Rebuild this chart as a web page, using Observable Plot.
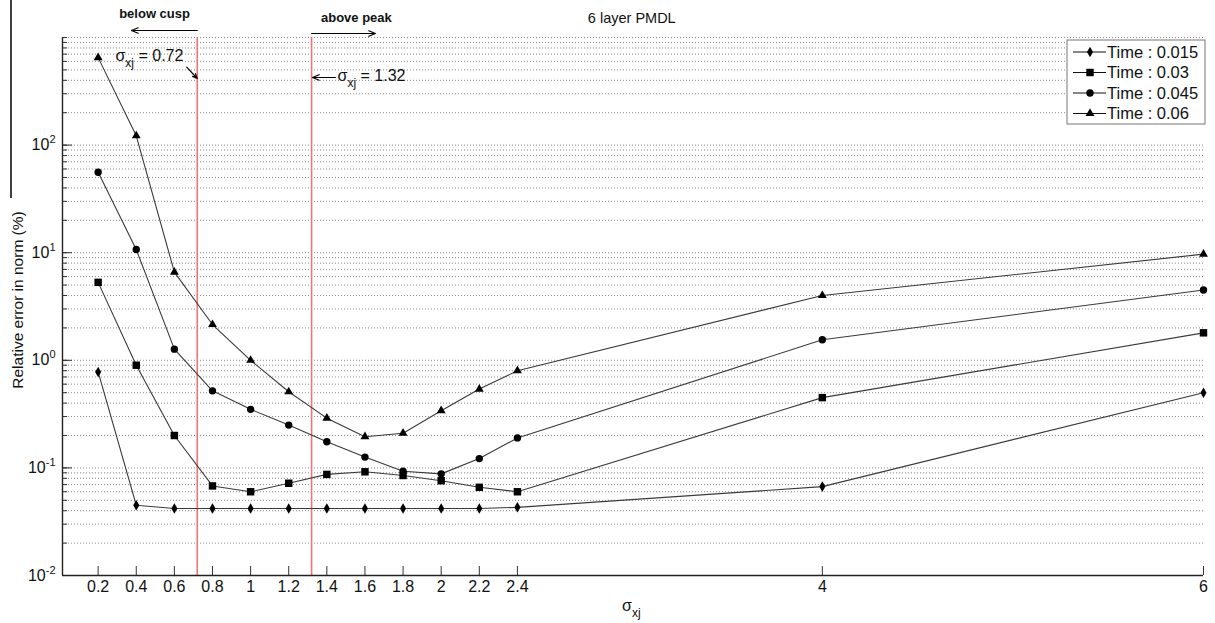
<!DOCTYPE html>
<html><head><meta charset="utf-8">
<script src="https://cdn.jsdelivr.net/npm/d3@7"></script>
<script src="https://cdn.jsdelivr.net/npm/@observablehq/plot@0.6"></script>
<style>
body{margin:0;background:#fff;}
#chart svg{font-family:"Liberation Sans",Arial,sans-serif;display:block;}
</style>
</head><body><div id="chart"></div>
<script>
// ---- data ----
const sigma   = [0.2,0.4,0.6,0.8,1.0,1.2,1.4,1.6,1.8,2.0,2.2,2.4,4,6];
const err015  = [0.78,0.045,0.042,0.042,0.042,0.042,0.042,0.042,0.042,0.042,0.042,0.043,0.067,0.5];
const err03   = [5.3,0.9,0.2,0.068,0.06,0.072,0.087,0.092,0.085,0.076,0.066,0.06,0.45,1.8];
const err045  = [56,10.7,1.27,0.52,0.35,0.25,0.175,0.126,0.093,0.088,0.122,0.19,1.55,4.5];
const err06   = [650,122,6.6,2.15,1.0,0.51,0.29,0.195,0.21,0.34,0.54,0.8,4.0,9.7];
const seriesNames   = ["Time : 0.015","Time : 0.03","Time : 0.045","Time : 0.06"];
const seriesSymbols = ["diamond","square","circle","triangle"];
const xTickValues = [0.2,0.4,0.6,0.8,1,1.2,1.4,1.6,1.8,2,2.2,2.4,4,6];
const yTickValues = [0.01,0.1,1,10,100];
const cuspLines   = [0.72,1.32];
const titleText   = "6 layer PMDL";
const yLabel      = "Relative error in norm (%)";

// annotations (data coordinates)
const annoText = [
  {x:0.496, y:1671, text:"below cusp", weight:"bold", size:13, anchor:"middle"},
  {x:1.555, y:1535, text:"above peak", weight:"bold", size:13, anchor:"middle"},
  {x:0.291, y:681,  text:"σ_xj = 0.72", weight:"normal", size:16, anchor:"start"},
  {x:1.456, y:444,  text:"σ_xj = 1.32", weight:"normal", size:16, anchor:"start"},
  {x:3.0,   y:1500, text:titleText, weight:"normal", size:14.5, anchor:"middle"}
];
const annoArrows = [
  {x1:0.72, y1:1161, x2:0.375, y2:1161},
  {x1:1.32, y1:1089, x2:1.655, y2:1089},
  {x1:0.665, y1:530, x2:0.72, y2:416},
  {x1:1.445, y1:425, x2:1.325, y2:425}
];

// ---- table ----
const allSeries = [err015, err03, err045, err06];
const rows = [];
allSeries.forEach((arr, j) => arr.forEach((v, i) => rows.push({sigma: sigma[i], err: v, series: seriesNames[j], symbol: seriesSymbols[j]})));

const minorTicks = d3.range(-2, 3).flatMap(k => d3.range(1, 10).map(m => +(m * Math.pow(10, k)).toPrecision(3))).concat([1000]);
const symR = {diamond: 3.2, square: 4.2, circle: 3.7, triangle: 3.3};

const W = 1215, H = 623, mL = 62, mR = 12, mT = 37, mB = 48;

const plot = Plot.plot({
  width: W, height: H,
  marginLeft: mL, marginRight: mR, marginTop: mT, marginBottom: mB,
  x: {type: "linear", domain: [0.013, 6]},
  y: {type: "log", domain: [0.01, 1000]},
  style: {fontFamily: '"Liberation Sans",Arial,sans-serif', fontSize: "16px", color: "#111", background: "#fff"},
  marks: [
    Plot.gridY(minorTicks, {stroke: "#8a8a8a", strokeOpacity: 1, strokeDasharray: "1,2", strokeWidth: 1}),
    Plot.ruleX(cuspLines, {stroke: "#f07575", strokeWidth: 1.6}),
    Plot.line(rows, {x: "sigma", y: "err", z: "series", stroke: "#3a3a3a", strokeWidth: 1.1}),
    ...seriesSymbols.map((s, j) => Plot.dot(rows.filter(d => d.symbol === s), {x: "sigma", y: "err", symbol: () => s, fill: "#000", stroke: "none", r: symR[s]})),
    Plot.axisX(xTickValues, {tickSize: -9, tickPadding: 14, tickFormat: d => String(d), label: null, fontSize: 16, stroke: "#333"}),
    Plot.axisY(minorTicks, {tickSize: -5, tickFormat: () => "", label: null, stroke: "#333"}),
    Plot.axisY(yTickValues, {tickSize: -10, tickPadding: 17, tickFormat: d => "10^" + Math.round(Math.log10(d)), label: null, fontSize: 16, stroke: "#333"}),
    Plot.ruleX([0.013], {stroke: "#222", strokeWidth: 1.4}),
    Plot.ruleY([0.01], {stroke: "#222", strokeWidth: 1.6}),
    Plot.arrow(annoArrows, {x1: "x1", y1: "y1", x2: "x2", y2: "y2", stroke: "#000", strokeWidth: 1.2, headLength: 9, headAngle: 45}),
    ...annoText.map(a => Plot.text([a], {x: "x", y: "y", text: "text", fontWeight: a.weight, fontSize: a.size, textAnchor: a.anchor, fill: "#111"}))
  ]
});

const NS = "http://www.w3.org/2000/svg";
function rich(textEl, parts) {
  while (textEl.firstChild) textEl.removeChild(textEl.firstChild);
  for (const p of parts) {
    const t = document.createElementNS(NS, "tspan");
    t.textContent = p.t;
    if (p.dy != null) t.setAttribute("dy", p.dy);
    if (p.size) t.setAttribute("font-size", p.size);
    textEl.appendChild(t);
  }
}
const svg = d3.select(plot);
svg.selectAll("text").each(function() {
  const s = this.textContent;
  let m = s.match(/^10\^(-?\d+)$/);
  if (m) { rich(this, [{t: "10"}, {t: m[1], dy: -7, size: 11}]); return; }
  m = s.match(/^σ_xj(.*)$/);
  if (m) { rich(this, [{t: "σ"}, {t: "xj", dy: 6, size: 12}, {t: m[1], dy: -6}]); }
});

// axis labels
const xl = svg.append("text").attr("x", 622).attr("y", 611).attr("text-anchor", "start").attr("font-size", 16).attr("fill", "#111");
rich(xl.node(), [{t: "σ"}, {t: "xj", dy: 6, size: 12}]);
svg.append("text").attr("transform", "translate(23,300) rotate(-90)").attr("text-anchor", "middle")
  .attr("font-size", 15.5).attr("fill", "#111").text(yLabel);
svg.append("line").attr("x1", 11).attr("x2", 11).attr("y1", 0).attr("y2", 198).attr("stroke", "#000").attr("stroke-width", 1.5);

// legend
const lg = svg.append("g").attr("text-anchor", "start");
const lx = 1067, ly = 40, lw = 138, lh = 84;
lg.append("rect").attr("x", lx).attr("y", ly).attr("width", lw).attr("height", lh).attr("fill", "#fff").attr("stroke", "#777");
seriesNames.forEach((name, j) => {
  const cy = ly + 12 + j * 20.5;
  lg.append("line").attr("x1", lx + 6).attr("x2", lx + 39).attr("y1", cy).attr("y2", cy).attr("stroke", "#111").attr("stroke-width", 1.1);
  const sym = {diamond: d3.symbolDiamond, square: d3.symbolSquare, circle: d3.symbolCircle, triangle: d3.symbolTriangle}[seriesSymbols[j]];
  lg.append("path").attr("d", d3.symbol(sym, Math.PI * symR[seriesSymbols[j]] ** 2)()).attr("transform", `translate(${lx + 23},${cy})`).attr("fill", "#000");
  lg.append("text").attr("x", lx + 40).attr("y", cy).attr("dy", "0.35em").attr("text-anchor", "start").attr("font-size", 16.5).attr("fill", "#111").text(name);
});

document.getElementById("chart").appendChild(plot);
</script>
</body></html>
